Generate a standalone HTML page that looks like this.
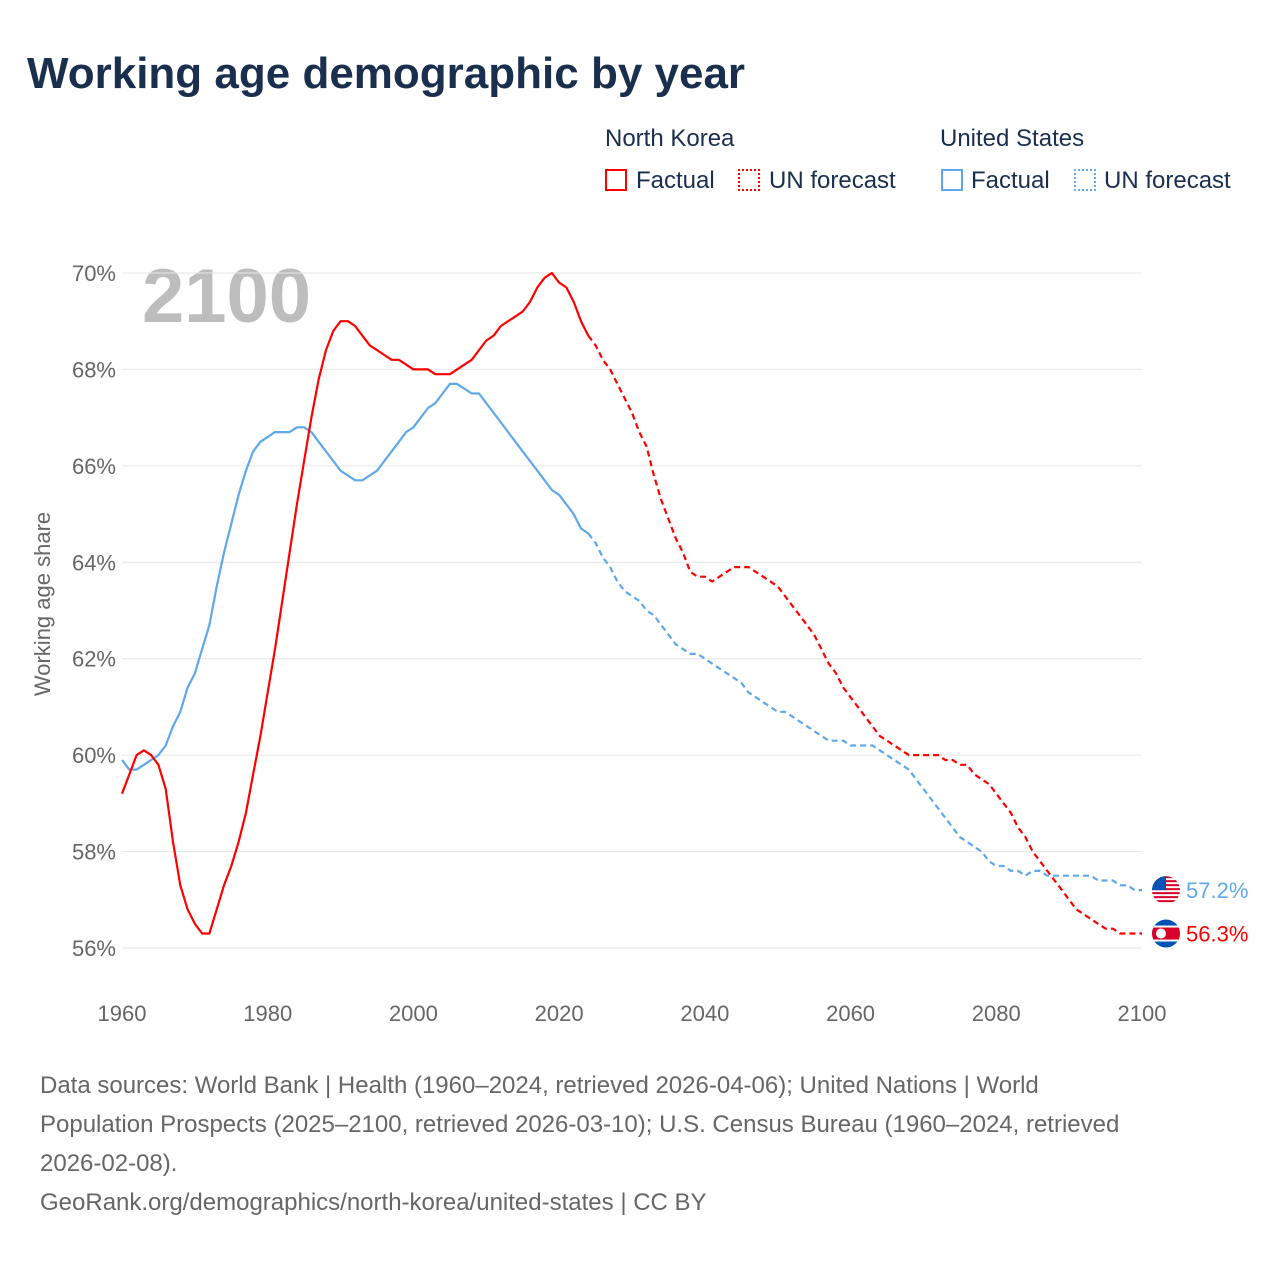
<!DOCTYPE html>
<html><head><meta charset="utf-8"><style>
body{margin:0;background:#fff;font-family:"Liberation Sans",sans-serif;}
#wrap{position:relative;width:1280px;height:1280px;overflow:hidden;}
h1{position:absolute;left:27px;top:49px;margin:0;font-size:44px;font-weight:bold;color:#1a2f4e;letter-spacing:0px;}
.lg{position:absolute;font-size:24px;color:#1a2f4e;}
.box{position:absolute;width:22px;height:22px;box-sizing:border-box;}
.foot{position:absolute;left:40px;top:1066px;width:1100px;font-size:24px;line-height:39px;color:#666;}
</style></head><body><div id="wrap">
<h1>Working age demographic by year</h1>
<div class="lg" style="left:605px;top:125px">North Korea</div>
<div class="lg" style="left:940px;top:125px">United States</div>
<div class="box" style="left:605px;top:169px;border:2px solid #f00"></div>
<div class="lg" style="left:636px;top:167px">Factual</div>
<div class="box" style="left:738px;top:169px;border:2px dotted #f00"></div>
<div class="lg" style="left:769px;top:167px">UN forecast</div>
<div class="box" style="left:941px;top:169px;border:2px solid #5ea8eb"></div>
<div class="lg" style="left:971px;top:167px">Factual</div>
<div class="box" style="left:1074px;top:169px;border:2px dotted #5ea8eb"></div>
<div class="lg" style="left:1104px;top:167px">UN forecast</div>
<svg id="svg" width="1280" height="1280" style="position:absolute;left:0;top:0"></svg>
<div class="foot">Data sources: World Bank | Health (1960–2024, retrieved 2026-04-06); United Nations | World Population Prospects (2025–2100, retrieved 2026-03-10); U.S. Census Bureau (1960–2024, retrieved 2026-02-08).<br>GeoRank.org/demographics/north-korea/united-states | CC BY</div>
</div>
<script>
const startYear = 1960;
const factualEndYear = 2024;
const nkValues = [59.2,59.6,60.0,60.1,60.0,59.8,59.3,58.2,57.3,56.8,56.5,56.3,56.3,56.8,57.3,57.7,58.2,58.8,59.6,60.4,
61.3,62.2,63.2,64.2,65.2,66.1,67.0,67.8,68.4,68.8,69.0,69.0,68.9,68.7,68.5,68.4,68.3,68.2,68.2,68.1,
68.0,68.0,68.0,67.9,67.9,67.9,68.0,68.1,68.2,68.4,68.6,68.7,68.9,69.0,69.1,69.2,69.4,69.7,69.9,70.0,
69.8,69.7,69.4,69.0,68.7,68.5,68.2,68.0,67.7,67.4,67.1,66.7,66.4,65.8,65.3,64.9,64.5,64.2,63.8,63.7,
63.7,63.6,63.7,63.8,63.9,63.9,63.9,63.8,63.7,63.6,63.5,63.3,63.1,62.9,62.7,62.5,62.2,61.9,61.7,61.4,
61.2,61.0,60.8,60.6,60.4,60.3,60.2,60.1,60.0,60.0,60.0,60.0,60.0,59.9,59.9,59.8,59.8,59.6,59.5,59.4,
59.2,59.0,58.8,58.5,58.3,58.0,57.8,57.6,57.4,57.2,57.0,56.8,56.7,56.6,56.5,56.4,56.4,56.3,56.3,56.3,56.3];
const usValues = [59.9,59.7,59.7,59.8,59.9,60.0,60.2,60.6,60.9,61.4,61.7,62.2,62.7,63.5,64.2,64.8,65.4,65.9,66.3,66.5,
66.6,66.7,66.7,66.7,66.8,66.8,66.7,66.5,66.3,66.1,65.9,65.8,65.7,65.7,65.8,65.9,66.1,66.3,66.5,66.7,
66.8,67.0,67.2,67.3,67.5,67.7,67.7,67.6,67.5,67.5,67.3,67.1,66.9,66.7,66.5,66.3,66.1,65.9,65.7,65.5,
65.4,65.2,65.0,64.7,64.6,64.4,64.1,63.9,63.6,63.4,63.3,63.2,63.0,62.9,62.7,62.5,62.3,62.2,62.1,62.1,
62.0,61.9,61.8,61.7,61.6,61.5,61.3,61.2,61.1,61.0,60.9,60.9,60.8,60.7,60.6,60.5,60.4,60.3,60.3,60.3,
60.2,60.2,60.2,60.2,60.1,60.0,59.9,59.8,59.7,59.5,59.3,59.1,58.9,58.7,58.5,58.3,58.2,58.1,58.0,57.8,
57.7,57.7,57.6,57.6,57.5,57.6,57.6,57.5,57.5,57.5,57.5,57.5,57.5,57.5,57.4,57.4,57.4,57.3,57.3,57.2,57.2];
const yTicks = [56,58,60,62,64,66,68,70];
const xTicks = [1960,1980,2000,2020,2040,2060,2080,2100];
const endLabels = ["57.2%","56.3%"];

const NS="http://www.w3.org/2000/svg", svg=document.getElementById('svg');
const X=y=>122+(y-1960)*(1020/140), Y=v=>273+(70-v)*(675/14);
function mk(t,a,p){const e=document.createElementNS(NS,t);for(const k in a)e.setAttribute(k,a[k]);(p||svg).appendChild(e);return e;}
const yr=mk('text',{x:142,y:322,'font-size':76,'font-weight':'bold',fill:'#bdbdbd'});yr.textContent='2100';


yTicks.forEach(t=>{
 const g=mk('line',{x1:122,x2:1142,y1:Y(t),y2:Y(t),stroke:'#e6e6e6','stroke-width':1});
 
 
 const l=mk('text',{x:116,y:Y(t)+8,'text-anchor':'end','font-size':22,fill:'#666'});l.textContent=t+'%';
 
 
});
xTicks.forEach(t=>{
 const l=mk('text',{x:X(t),y:1021,'text-anchor':'middle','font-size':22,fill:'#666'});l.textContent=t;
 
 
});
const yt=mk('text',{x:0,y:0,'text-anchor':'middle','font-size':22,fill:'#666',transform:'translate(50,604) rotate(-90)'});yt.textContent='Working age share';


function series(vals,color,name){
 let a='',b='';
 vals.forEach((v,i)=>{const y=startYear+i,p=X(y).toFixed(1)+','+Y(v).toFixed(1);
  if(y<=factualEndYear)a+=(a?' L':'M')+p;
  if(y>=factualEndYear)b+=(b?' L':'M')+p;});
 const f=mk('path',{d:a,fill:'none',stroke:color,'stroke-width':2.2,'stroke-linejoin':'round'});
 
 
 const d=mk('path',{d:b,fill:'none',stroke:color,'stroke-width':2.2,'stroke-dasharray':'6,4'});
 
 
}
series(usValues,'#5ea8eb','us');
series(nkValues,'#ff0000','nk');
function flag(v,isUS,label,color,name){
 const cx=1166,cy=Y(v);
 const g=mk('g',{});
 
 
 const cp=mk('clipPath',{id:'c'+name},g);mk('circle',{cx:cx,cy:cy,r:14},cp);
 const h=mk('g',{'clip-path':'url(#c'+name+')'},g);
 if(isUS){mk('rect',{x:cx-14,y:cy-14,width:28,height:28,fill:'#fff'},h);
  for(let i=0;i<7;i++)mk('rect',{x:cx-14,y:cy-14+i*4,width:28,height:2,fill:'#d80027'},h);
  mk('rect',{x:cx-14,y:cy-14,width:14,height:14,fill:'#0052b4'},h);}
 else{mk('rect',{x:cx-14,y:cy-14,width:28,height:28,fill:'#0052b4'},h);
  mk('rect',{x:cx-14,y:cy-8,width:28,height:16,fill:'#fff'},h);
  mk('rect',{x:cx-14,y:cy-6,width:28,height:12,fill:'#d80027'},h);
  mk('circle',{cx:cx-5,cy:cy,r:5,fill:'#fff'},h);}
 const t=mk('text',{x:1186,y:cy+8,'font-size':22,fill:color});t.textContent=label;
 
 
}
flag(usValues[usValues.length-1],true,endLabels[0],'#5ea8eb','us');
flag(nkValues[nkValues.length-1],false,endLabels[1],'#ff0000','nk');
</script></body></html>
